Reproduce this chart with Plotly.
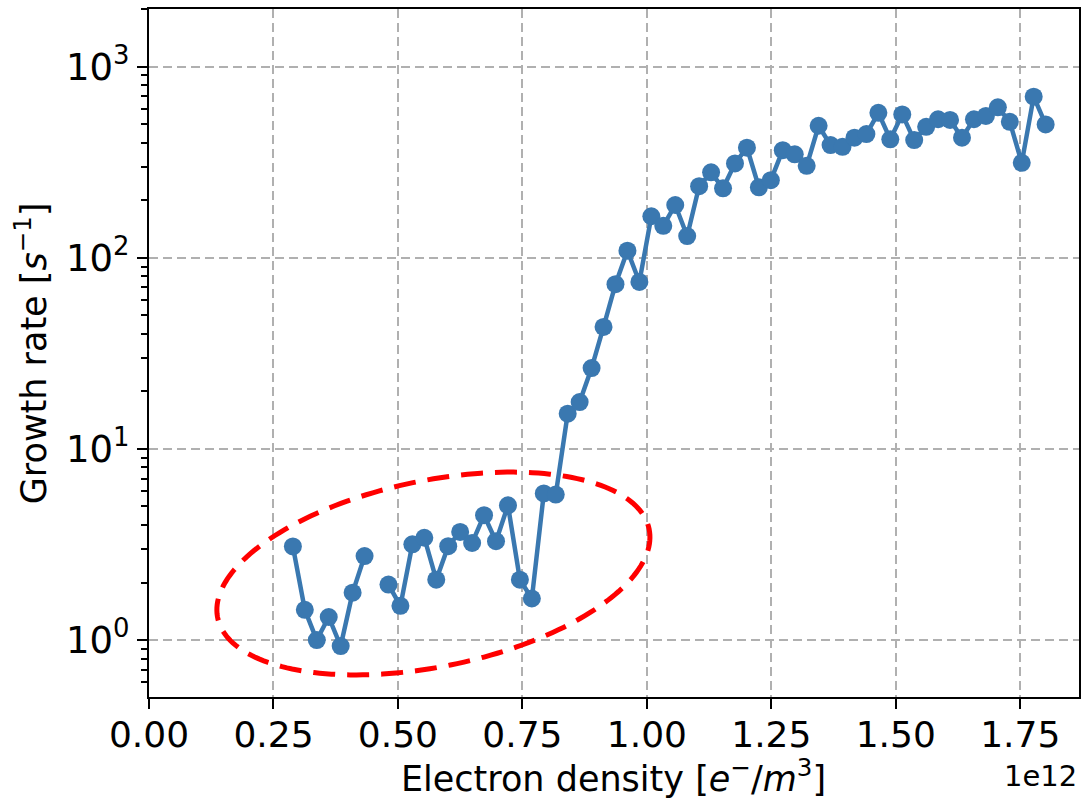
import numpy as np
import plotly.graph_objects as go

# ---- data (electron density in units of 1e12 e-/m^3, growth rate in 1/s) ----
density = [0.289, 0.313, 0.337, 0.361, 0.385, 0.409, 0.433, 0.457, 0.481, 0.505,
           0.529, 0.553, 0.577, 0.601, 0.625, 0.649, 0.673, 0.697, 0.721, 0.745,
           0.769, 0.793, 0.817, 0.841, 0.865, 0.889, 0.913, 0.937, 0.961, 0.985,
           1.009, 1.033, 1.057, 1.081, 1.105, 1.129, 1.153, 1.177, 1.201, 1.225,
           1.249, 1.273, 1.297, 1.321, 1.345, 1.369, 1.393, 1.417, 1.441, 1.465,
           1.489, 1.513, 1.537, 1.561, 1.585, 1.609, 1.633, 1.657, 1.681, 1.705,
           1.729, 1.753, 1.777, 1.801]
growth = [3.09, 1.44, 1.00, 1.32, 0.93, 1.77, 2.75, None, 1.95, 1.51,
          3.17, 3.43, 2.07, 3.10, 3.68, 3.22, 4.50, 3.29, 5.07, 2.07,
          1.65, 5.85, 5.77, 15.3, 17.6, 26.5, 43.5, 72.8, 109, 74.8,
          165, 147, 189, 130, 237, 280, 231, 312, 377, 234,
          255, 366, 348, 303, 491, 389, 381, 425, 444, 574,
          417, 563, 413, 485, 531, 527, 425, 531, 553, 613,
          515, 314, 697, 499]

x_ticks = [0.0, 0.25, 0.5, 0.75, 1.0, 1.25, 1.5, 1.75]
x_ticklabels = ["0.00", "0.25", "0.50", "0.75", "1.00", "1.25", "1.50", "1.75"]
y_ticks = [1, 10, 100, 1000]
y_ticklabels = ["10<sup>0</sup>", "10<sup>1</sup>", "10<sup>2</sup>", "10<sup>3</sup>"]
y_minor = [m * 10 ** e for e in range(-1, 4) for m in range(2, 10)]

# ---- layout geometry ----
W, H = 1084, 806
ML, MR, MT, MB = 149, 3, 9, 109
PW, PH = W - ML - MR, H - MT - MB

FONT = "DejaVu Sans, Verdana, sans-serif"
BLUE = "#3a78b0"

fig = go.Figure()
fig.add_trace(go.Scatter(
    x=density, y=growth, mode="lines+markers",
    line=dict(color=BLUE, width=4.5),
    marker=dict(color=BLUE, size=18, line=dict(width=0)),
    connectgaps=False, showlegend=False,
))

# highlight ellipse (dashed red), defined in pixel space then mapped to paper
cx, cy, a, b, th = 434.0, 573.5, 220.7, 93.1, np.deg2rad(11.6)
t = np.linspace(0, 2 * np.pi, 200)
ex = cx + a * np.cos(t) * np.cos(th) + b * np.sin(t) * np.sin(th)
ey = cy - a * np.cos(t) * np.sin(th) + b * np.sin(t) * np.cos(th)
px = (ex - ML) / PW
py = (H - MB - ey) / PH
path = "M " + " L ".join(f"{u:.5f},{v:.5f}" for u, v in zip(px, py)) + " Z"
fig.add_shape(type="path", path=path, xref="paper", yref="paper",
              line=dict(color="#ff0000", width=5, dash="22px,12px"),
              fillcolor="rgba(0,0,0,0)", layer="above")

grid = dict(showgrid=True, gridcolor="#b0b0b0", gridwidth=1.5, griddash="9px,5px")

fig.update_xaxes(
    range=[0, 1.868], tickmode="array", tickvals=x_ticks, ticktext=x_ticklabels,
    ticks="outside", ticklen=10, tickwidth=2, tickcolor="black",
    ticklabelstandoff=-5,
    showline=True, linecolor="black", linewidth=2, mirror=True,
    tickfont=dict(family=FONT, size=36, color="black"), zeroline=False,
    **grid,
)
fig.update_yaxes(
    type="log", range=[-0.298, 3.302], tickmode="array", tickvals=y_ticks,
    ticktext=y_ticklabels,
    ticks="outside", ticklen=10, tickwidth=2, tickcolor="black",
    showline=True, linecolor="black", linewidth=2, mirror=True,
    tickfont=dict(family=FONT, size=37, color="black"), zeroline=False,
    minor=dict(tickmode="array", tickvals=y_minor, ticks="outside", ticklen=6,
               tickwidth=1.5, tickcolor="black", showgrid=False),
    **grid,
)

fig.add_annotation(
    text="Electron density [<i>e</i><sup>−</sup>/<i>m</i><sup>3</sup>]",
    xref="paper", yref="paper", x=(614 - ML) / PW, y=-(776 - (H - MB)) / PH,
    xanchor="center", yanchor="middle", showarrow=False,
    font=dict(family=FONT, size=35, color="black"),
)
fig.add_annotation(
    text="Growth rate [<i>s</i><sup>−1</sup>]",
    xref="paper", yref="paper", x=(31 - ML) / PW, y=0.5,
    xanchor="center", yanchor="middle", textangle=-90, showarrow=False,
    font=dict(family=FONT, size=35, color="black"),
)
fig.add_annotation(
    text="1e12", xref="paper", yref="paper", x=1.0, y=-(776 - (H - MB)) / PH,
    xanchor="right", yanchor="middle", showarrow=False,
    font=dict(family=FONT, size=29, color="black"),
)

fig.update_layout(
    width=W, height=H, margin=dict(l=ML, r=MR, t=MT, b=MB),
    paper_bgcolor="white", plot_bgcolor="white",
    font=dict(family=FONT, color="black"),
)

fig.write_html("out.html")
